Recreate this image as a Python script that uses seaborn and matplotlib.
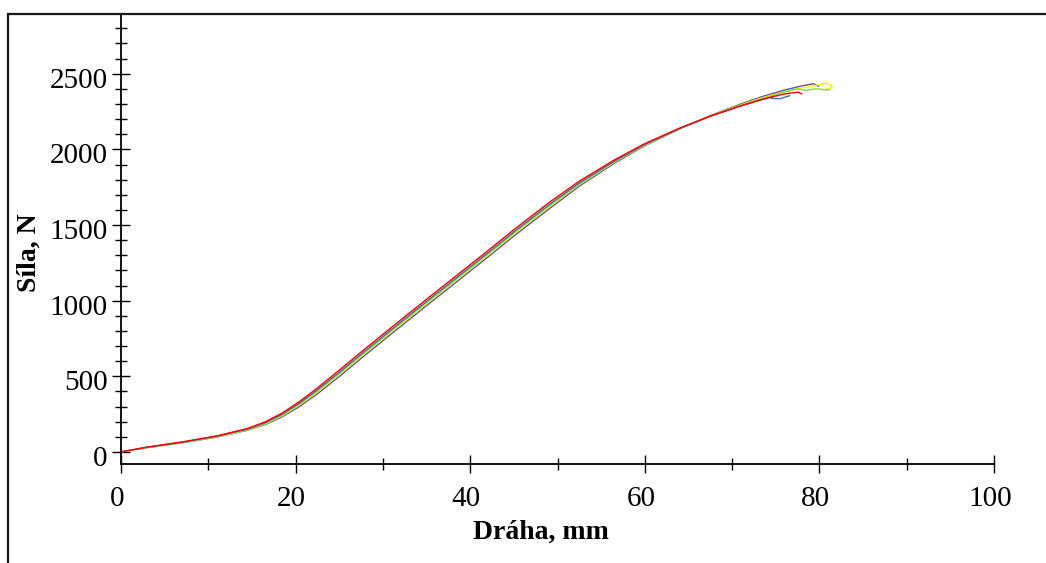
import matplotlib
matplotlib.use("Agg")
import matplotlib.pyplot as plt
import matplotlib.transforms as mtransforms
from matplotlib.patches import Rectangle
import pandas as pd
import seaborn as sns

# Shared travel grid for the rising part of the curves (mm)
grid_mm = [0, 3, 7, 11, 14.5, 16.5, 18.5, 20.5, 22.5, 25, 27.5, 31, 35, 38.5,
           42, 45, 49, 52.5, 56.5, 60, 64, 67.5, 71]

# Force (N) of each specimen on the shared grid
sila_cervena = [0, 32, 66, 106, 155, 198, 258, 335, 423, 540, 660, 824, 1009, 1169,
                1329, 1469, 1647, 1790, 1930, 2038, 2141, 2220, 2288]
sila_modra = [0, 31, 64, 104, 151, 192, 250, 325, 411, 526, 646, 810, 995, 1155,
              1315, 1455, 1633, 1778, 1922, 2033, 2138, 2219, 2287]
sila_zelena = [0, 30, 63, 102, 148, 188, 245, 318, 403, 518, 638, 802, 987, 1147,
               1307, 1447, 1625, 1772, 1918, 2030, 2137, 2220, 2290]
sila_zluta = [0, 29, 62, 100, 145, 184, 240, 312, 396, 511, 631, 795, 980, 1140,
              1300, 1440, 1618, 1767, 1915, 2028, 2136, 2221, 2294]
sila_fialova = [0, 28, 60, 98, 143, 180, 233, 302, 384, 498, 618, 782, 967, 1127,
                1287, 1427, 1605, 1757, 1908, 2024, 2135, 2223, 2300]

# Final part of each record up to rupture (travel mm, force N)
konec_cervena_mm = [73.5, 75.5, 76.6, 77.6, 78.0]
konec_cervena_n = [2332, 2360, 2372, 2378, 2366]
konec_modra_mm = [73.5, 74.6, 74.5, 75.5, 76.6]
konec_modra_n = [2330, 2346, 2337, 2335, 2355]
konec_zelena_mm = [73.5, 75.5, 77.4, 78.5, 79.3, 80.0, 80.6, 81.2]
konec_zelena_n = [2336, 2372, 2399, 2390, 2398, 2400, 2392, 2395]
konec_zluta_mm = [73.5, 76.0, 78.5, 80.0, 80.8, 81.5, 81.2, 80.7]
konec_zluta_n = [2342, 2382, 2412, 2428, 2438, 2416, 2399, 2399]
konec_fialova_mm = [73.5, 76.0, 78.0, 79.3, 79.9]
konec_fialova_n = [2350, 2392, 2420, 2434, 2416]

vzorky = ["fialová", "žlutá", "zelená", "modrá", "červená"]
barvy = ["#5f5294", "#f2f200", "#8fd14f", "#3f6fb0", "#ff0000"]

zaznamy = {
    "fialová": (sila_fialova, konec_fialova_mm, konec_fialova_n),
    "žlutá": (sila_zluta, konec_zluta_mm, konec_zluta_n),
    "zelená": (sila_zelena, konec_zelena_mm, konec_zelena_n),
    "modrá": (sila_modra, konec_modra_mm, konec_modra_n),
    "červená": (sila_cervena, konec_cervena_mm, konec_cervena_n),
}

radky = []
for nazev in vzorky:
    sila, konec_mm, konec_n = zaznamy[nazev]
    for x, y in zip(grid_mm + konec_mm, sila + konec_n):
        radky.append({"vzorek": nazev, "draha": x, "sila": y})
df = pd.DataFrame(radky)

sns.set_style("ticks")
plt.rcParams["font.family"] = ["Liberation Serif", "DejaVu Serif"]
plt.rcParams["text.color"] = "black"

fig = plt.figure(figsize=(10.46, 5.63), dpi=100)
ax = fig.add_axes([121 / 1046, 99 / 563, 873 / 1046, 450 / 563])

sns.lineplot(data=df, x="draha", y="sila", hue="vzorek", hue_order=vzorky,
             palette=barvy, estimator=None, sort=False, linewidth=1.0,
             legend=False, ax=ax)

ax.set_xlim(0, 100)
ax.set_ylim(-80, 2895)
ax.set_xticks(range(0, 101, 20))
ax.set_xticks(range(10, 100, 20), minor=True)
ax.set_yticks(range(0, 2501, 500))
ax.set_yticks([v for v in range(100, 2900, 100) if v % 500], minor=True)

for side in ("top", "right"):
    ax.spines[side].set_visible(False)
for side in ("left", "bottom"):
    ax.spines[side].set_linewidth(1.3)
    ax.spines[side].set_color("black")

ax.tick_params(which="major", direction="inout", length=13, width=1.0,
               colors="black", labelsize=21)
ax.tick_params(which="minor", direction="inout", length=9, width=1.0,
               colors="black")
ax.tick_params(axis="y", which="major", pad=3)
ax.tick_params(axis="x", which="major", pad=9)

# small nudges of the tick labels
for t in ax.yaxis.get_major_ticks():
    t.label1.set_transform(t.label1.get_transform() +
                           mtransforms.ScaledTranslation(0, -0.04, fig.dpi_scale_trans))
for t in ax.xaxis.get_major_ticks():
    t.label1.set_transform(t.label1.get_transform() +
                           mtransforms.ScaledTranslation(-0.04, 0, fig.dpi_scale_trans))

ax.set_xlabel("Dráha, mm", fontsize=20, fontweight="bold", color="black")
ax.xaxis.set_label_coords((541 - 121) / 873, (464 - 532) / 450)
ax.xaxis.label.set_verticalalignment("center")
ax.set_ylabel("Síla, N", fontsize=20, fontweight="bold", color="black")
ax.yaxis.set_label_coords((29 - 121) / 873, (464 - 253) / 450)
ax.yaxis.label.set_verticalalignment("center")
ax.yaxis.label.set_horizontalalignment("center")

# outer frame around the plot
fig.add_artist(Rectangle((8 / 1046, -0.1), 1.2, (1 - 14 / 563) + 0.1,
                         transform=fig.transFigure, fill=False, lw=1.6,
                         ec="#1a1a1a", clip_on=False))

fig.savefig("out.png", dpi=100)
